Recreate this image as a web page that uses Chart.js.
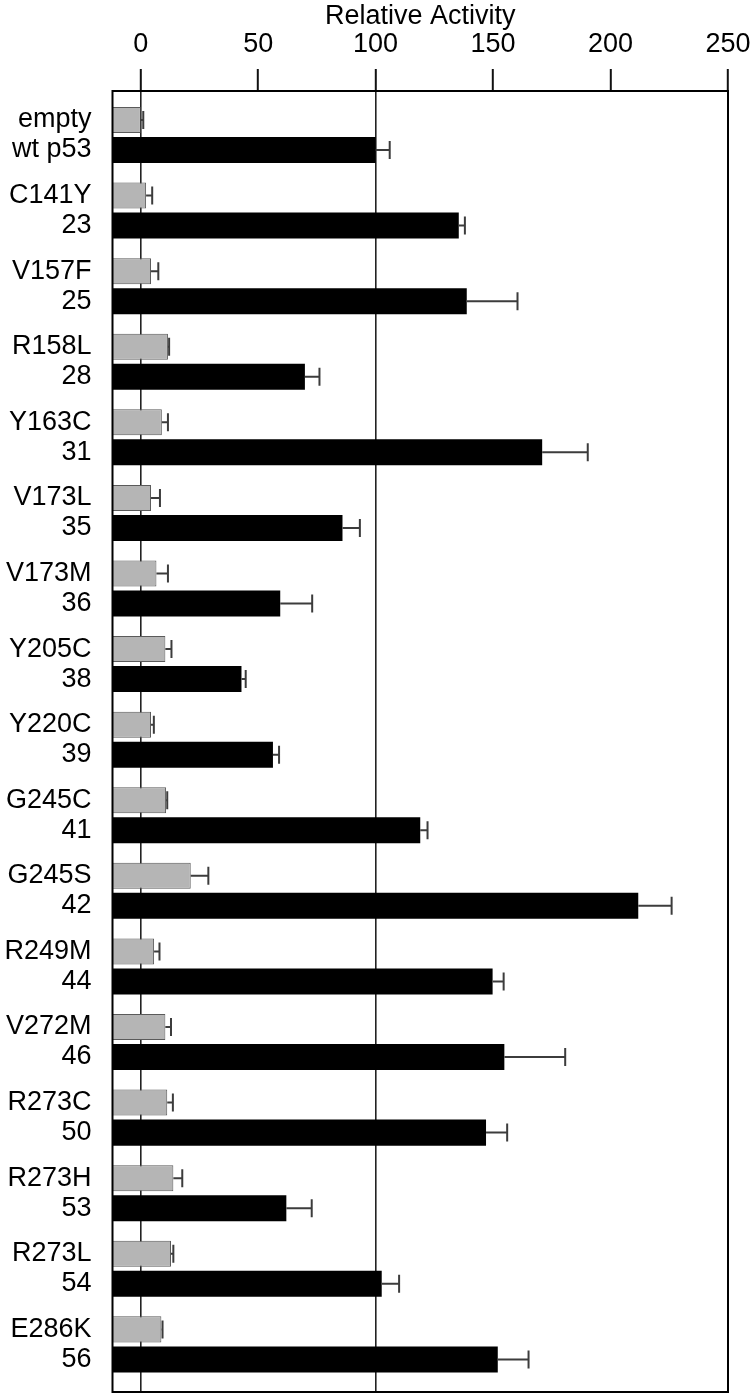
<!DOCTYPE html>
<html>
<head>
<meta charset="utf-8">
<style>
  html, body { margin: 0; padding: 0; background: #fff; }
  #wrap { width: 750px; height: 1394px; }
</style>
</head>
<body>
<div id="wrap"><canvas id="myChart"></canvas></div>
<script src="https://cdn.jsdelivr.net/npm/chart.js@4/dist/chart.umd.min.js"></script>
<script>
const mutants = ["empty", "C141Y", "V157F", "R158L", "Y163C", "V173L", "V173M", "Y205C", "Y220C",
  "G245C", "G245S", "R249M", "V272M", "R273C", "R273H", "R273L", "E286K"];
const constructs = ["wt p53", "23", "25", "28", "31", "35", "36", "38", "39",
  "41", "42", "44", "46", "50", "53", "54", "56"];
const grayValues = [0, 2.3, 4.4, 11.6, 9.0, 4.4, 6.7, 10.5, 4.4, 10.8, 21.3, 5.7, 10.5, 11.3, 13.9, 12.9, 8.8];
const grayErrors = [1.1, 2.6, 3.1, 0.5, 2.6, 3.8, 4.9, 2.6, 1.2, 0.5, 7.5, 2.3, 2.4, 2.4, 3.8, 1.0, 0.5];
const blackValues = [100, 135.4, 138.8, 69.9, 170.9, 85.9, 59.4, 42.9, 56.3, 119, 211.8, 149.8, 154.8, 147, 62, 102.6, 152];
const blackErrors = [6, 2.6, 21.6, 6.2, 19.4, 7.4, 13.6, 1.8, 2.6, 3.1, 14.2, 4.7, 25.9, 9, 10.8, 7.4, 13.1];
const xTicks = [0, 50, 100, 150, 200, 250];

const xMin = -12;
const xMax = 250;

Chart.defaults.font.family = "'Liberation Sans', Arial, Helvetica, sans-serif";
Chart.defaults.color = "#000";

const frame = {
  id: "frame",
  afterDraw: (chart) => {
    const { ctx, chartArea: a } = chart;
    ctx.save();
    ctx.strokeStyle = "#000";
    ctx.lineWidth = 2;
    ctx.strokeRect(a.left, a.top, a.right - a.left, a.bottom - a.top);
    ctx.restore();
  },
};

const errorBars = {
  id: "errorBars",
  afterDatasetsDraw: (chart) => {
    const { ctx } = chart;
    const x = chart.scales.x;
    ctx.save();
    ctx.strokeStyle = "#3c3c3c";
    ctx.lineWidth = 2;
    chart.data.datasets.forEach((ds, di) => {
      chart.getDatasetMeta(di).data.forEach((bar, i) => {
        const v = ds.data[i].x;
        const end = x.getPixelForValue(v + ds.errors[i]);
        const start = x.getPixelForValue(v);
        ctx.beginPath();
        ctx.moveTo(start, bar.y);
        ctx.lineTo(end, bar.y);
        ctx.moveTo(end, bar.y - 9);
        ctx.lineTo(end, bar.y + 9);
        ctx.stroke();
      });
    });
    ctx.restore();
  },
};

const ctx = document.getElementById("myChart");
new Chart(ctx, {
  type: "bar",
  data: {
    datasets: [
      {
        data: grayValues.map((v, i) => ({ x: v, y: i })),
        errors: grayErrors,
        base: xMin,
        backgroundColor: "#b5b5b5",
        borderColor: "#5a5a5a",
        borderWidth: 1,
      },
      {
        data: blackValues.map((v, i) => ({ x: v, y: i })),
        errors: blackErrors,
        base: xMin,
        backgroundColor: "#000",
        borderWidth: 0,
      },
    ],
  },
  options: {
    indexAxis: "y",
    responsive: true,
    maintainAspectRatio: false,
    animation: false,
    barPercentage: 0.867,
    categoryPercentage: 0.794,
    layout: { padding: { top: 0, right: 22, bottom: 2, left: 0 } },
    plugins: { legend: { display: false }, tooltip: { enabled: false } },
    scales: {
      x: {
        type: "linear",
        position: "top",
        min: xMin,
        max: xMax,
        z: 1,
        afterBuildTicks: (scale) => {
          scale.ticks = xTicks.map((v) => ({ value: v }));
        },
        afterFit: (scale) => {
          scale.height = 91;
          scale.paddingLeft = 0;
          scale.paddingRight = 0;
        },
        ticks: { font: { size: 27 }, padding: 8, color: "#000" },
        grid: {
          color: (c) => (c.tick && (c.tick.value === 0 || c.tick.value === 100) ? "#222" : "transparent"),
          lineWidth: 1.6,
          tickColor: "#111",
          tickLength: 22,
          tickWidth: 2,
        },
        border: { display: true, color: "#000", width: 2 },
        title: {
          display: true,
          text: "Relative Activity",
          font: { size: 27 },
          padding: { top: 0, bottom: 4 },
        },
      },
      y: {
        type: "linear",
        reverse: true,
        offset: false,
        min: -0.582,
        max: 16.63,
        afterFit: (scale) => {
          scale.width = 112.5;
          scale.paddingTop = 0;
          scale.paddingBottom = 0;
        },
        afterBuildTicks: (scale) => {
          scale.ticks = mutants.map((m, i) => ({ value: i }));
        },
        ticks: {
          autoSkip: false,
          padding: 21,
          color: "#000",
          font: { size: 27, lineHeight: "30px" },
          callback: (v) => [mutants[v], constructs[v]],
        },
        grid: { display: false, drawTicks: false },
        border: { display: false },
      },
    },
  },
  plugins: [frame, errorBars],
});
</script>
</body>
</html>
